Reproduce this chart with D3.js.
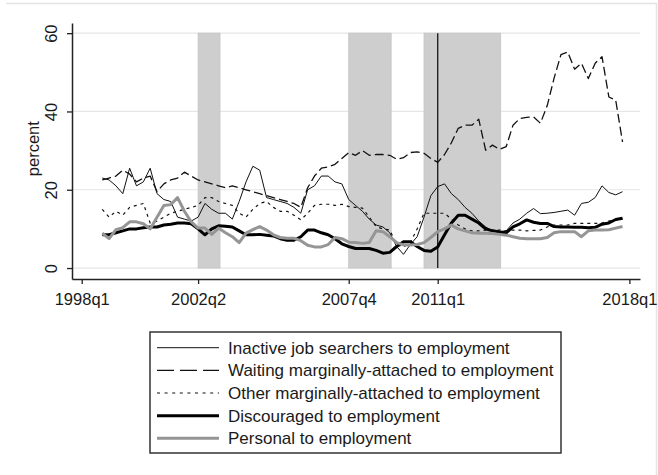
<!DOCTYPE html>
<html>
  <head>
      <script src="https://cdnjs.cloudflare.com/ajax/libs/d3/7.8.5/d3.min.js"></script>
      <style>
        body { margin: 0; background: #fff; }
        text { font-family: "Liberation Sans", Arial, sans-serif; fill: #1a1a1a; }
      </style>
  </head>
  <body>
    <div id="vis"></div>
    <script type="text/javascript">

        // quarters counted from 1998q1 = 0, series run 1998q4 .. 2017q4
        const firstQuarter = 3;
        const tickQuarters = [0, 17, 39, 52, 80];
        const tickLabels = ["1998q1", "2002q2", "2007q4", "2011q1", "2018q1"];
        const yTicks = [0, 20, 40, 60];
        const recessions = [[17, 20.2], [39, 45.2], [50, 61.2]];
        const markerQuarter = 52;

        const inactive = [23,22.5,21,19,25.5,21,22,25.5,19,17.5,
            17,13,12.5,12,13,16.5,15,14,14,12.5,
            17,22,26,25,18,17.5,17,16.5,15.5,14,
            20,21,23.5,23.5,22,21.5,17.5,16,14.5,12.5,
            11,10.5,9,5.5,3.5,6,8,13,18.5,20.8,
            21.5,19,17.5,15.5,14,12,10.5,9.5,9.3,9.5,
            11.5,12.5,14,15.2,13.9,14,14.2,14.5,14.8,13.5,
            16.5,16.8,18,21,19.3,18.7,19.5];
        const waiting = [22.5,23,23.5,25,24,22,23,23.5,19.5,21.5,
            22.5,23,24.5,23.5,22.5,22,21.5,21,20.5,21,
            20.5,20,19.5,19,18.5,18,17.5,17,16.5,15.5,
            20.5,23.5,25.5,25.8,26.5,28,29.5,28.8,30,28.8,
            29,29,28.8,27.8,28.2,29.5,29.7,29.3,28,27,
            29,32,35.7,36.5,36.5,38,30.1,31.4,30.3,31,
            36.5,38.2,38.5,38.6,37,41.5,48.5,54.5,55.2,50.8,
            52.3,48.4,52.3,54,43.7,42.9,32.2];
        const other = [15,13,14.5,13.5,15.5,16,16.5,11.5,12,13,
            14,14.5,15,15.5,16,18,18,17,16.5,16,
            14,13,15,16.5,17,15.5,14.5,14.5,13.5,12.3,
            14,16,16.3,16.3,16,16.3,15.7,15.5,15.3,13,
            10.6,10,9.7,6,5.4,6.5,10,14,14,14,
            14,12.5,11,10,9.5,9.5,9.7,9.7,9.7,9.5,
            9.7,9.7,9.5,9.6,9.7,10.5,11,11,11,11.4,
            11.4,11.4,11.4,11.5,12,12.3,12.5];
        const discouraged = [8.5,8.5,9,9.5,10,10,10.3,10.5,10.5,11,
            11.2,11.5,11.5,11.3,10,8.5,10,10.8,10.7,10.5,
            9.5,8.5,8.5,8.6,8.4,8.2,7.5,7.1,7.1,8,
            9.7,9.7,9,8.5,7.5,6.2,5.5,5,5,5,
            4.5,3.8,4,5.5,6.7,6.7,5.5,4.5,4.3,5.4,
            8.5,11.5,13.5,13.5,12.5,11.5,10,9.5,9.2,9,
            10.5,11.3,12.3,11.7,11.4,11.4,10.6,10.5,10.5,10.4,
            10.4,10.3,10.4,11.2,11.5,12.4,12.7];
        const personal = [8.9,7.5,9.8,10.3,11.8,11.8,11.3,10,13,16,
            16.2,18,14.5,11.8,10.2,10.2,8.6,10.2,9,8,
            6.5,8.9,9.8,10.6,9.7,8.5,7.8,7.6,7.6,7,
            5.8,5.4,5.4,6,7.8,7.5,6.6,6.5,6.3,6.5,
            9.5,9.3,8,6.5,5.9,5.9,6,6.5,7.8,9.3,
            10,11,10,9.5,9,8.9,8.9,8.8,8.6,8.4,
            8,7.6,7.5,7.5,7.5,7.8,9,9.3,9.3,9.3,
            8,9.5,9.7,9.7,9.8,10.2,10.6];

        const series = [
            {name: "Inactive job searchers to employment", values: inactive,
             color: "#111", width: 1, dash: null, legendDash: null},
            {name: "Waiting marginally-attached to employment", values: waiting,
             color: "#111", width: 1.3, dash: "9,4", legendDash: "17,6"},
            {name: "Other marginally-attached to employment", values: other,
             color: "#111", width: 1.2, dash: "3,4", legendDash: "3,4.6"},
            {name: "Discouraged to employment", values: discouraged,
             color: "#000", width: 3, dash: null, legendDash: null},
            {name: "Personal to employment", values: personal,
             color: "#959595", width: 3, dash: null, legendDash: null}
        ];

        const svg = d3.select("#vis")
            .append("svg")
            .attr("width", 658)
            .attr("height", 475);

        // faint outer graph-region frame
        svg.append("path")
            .attr("d", "M6,3.5H656.5V475")
            .attr("fill", "none")
            .attr("stroke", "#e4e4e4")
            .attr("stroke-width", 1.5);

        const x = d3.scaleLinear().domain([-1.42, 81.55]).range([72, 640]);
        const y = d3.scaleLinear().domain([-2.8, 62.6]).range([279, 23]);

        // gridlines
        svg.append("g")
            .selectAll("line")
            .data(yTicks)
            .enter()
            .append("line")
            .attr("x1", 72).attr("x2", 640)
            .attr("y1", d => y(d)).attr("y2", d => y(d))
            .attr("stroke", "#e6e6e6")
            .attr("stroke-width", 1.2);

        // recession bands
        svg.append("g")
            .selectAll("rect")
            .data(recessions)
            .enter()
            .append("rect")
            .attr("x", d => x(d[0]))
            .attr("width", d => x(d[1]) - x(d[0]))
            .attr("y", y(60))
            .attr("height", y(0) - y(60))
            .attr("fill", "#cecece")
            .attr("stroke", "#c4c4c4")
            .attr("stroke-width", 0.8);

        // 2011q1 marker
        svg.append("line")
            .attr("x1", x(markerQuarter)).attr("x2", x(markerQuarter))
            .attr("y1", y(0)).attr("y2", y(60))
            .attr("stroke", "#222")
            .attr("stroke-width", 1.4);

        const line = d3.line()
            .x((d, i) => x(firstQuarter + i))
            .y(d => y(d));

        svg.append("g")
            .selectAll("path")
            .data(series)
            .enter()
            .append("path")
            .attr("d", d => line(d.values))
            .attr("fill", "none")
            .attr("stroke", d => d.color)
            .attr("stroke-width", d => d.width)
            .attr("stroke-dasharray", d => d.dash)
            .attr("stroke-linejoin", "round");

        // axes
        const xAxis = svg.append("g")
            .attr("transform", "translate(0,279)")
            .call(d3.axisBottom(x).tickValues(tickQuarters)
                .tickFormat((d, i) => tickLabels[i]).tickSize(5).tickSizeOuter(0));
        const yAxis = svg.append("g")
            .attr("transform", "translate(72,0)")
            .call(d3.axisLeft(y).tickValues(yTicks).tickSize(5).tickSizeOuter(0));

        [xAxis, yAxis].forEach(g => {
            g.select(".domain").attr("stroke", "#222").attr("stroke-width", 1.5);
            g.selectAll(".tick line").attr("stroke", "#222").attr("stroke-width", 1.3);
            g.selectAll("text")
                .style("font-family", "'Liberation Sans', Arial, sans-serif")
                .style("font-size", "16.5px")
                .attr("fill", "#1a1a1a");
        });
        xAxis.selectAll("text").attr("y", 0).attr("dy", "26px");
        yAxis.selectAll("text")
            .attr("x", 0).attr("dy", 0)
            .attr("text-anchor", "middle")
            .attr("transform", "translate(-15,0) rotate(-90)");

        svg.append("text")
            .attr("transform", "translate(38.5," + y(30.5) + ") rotate(-90)")
            .attr("text-anchor", "middle")
            .style("font-size", "16.5px")
            .text("percent");

        // legend
        const legend = svg.append("g");
        legend.append("rect")
            .attr("x", 150).attr("y", 332)
            .attr("width", 411).attr("height", 121)
            .attr("fill", "#fff")
            .attr("stroke", "#333")
            .attr("stroke-width", 1.5);

        const rows = legend.selectAll("g.row")
            .data(series)
            .enter()
            .append("g")
            .attr("class", "row")
            .attr("transform", (d, i) => "translate(0," + (347.7 + i * 22.65) + ")");

        rows.append("line")
            .attr("x1", 157).attr("x2", 219)
            .attr("stroke", d => d.color)
            .attr("stroke-width", d => d.width)
            .attr("stroke-dasharray", d => d.legendDash);

        rows.append("text")
            .attr("x", 228)
            .attr("dy", "0.36em")
            .style("font-size", "17px")
            .text(d => d.name);

    </script>
  </body>
</html>
